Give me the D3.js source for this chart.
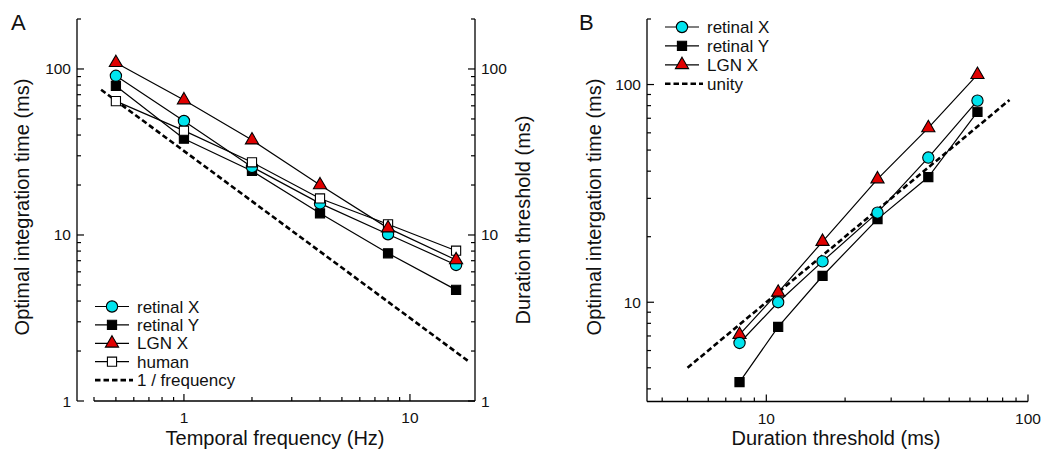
<!DOCTYPE html>
<html><head><meta charset="utf-8">
<script src="https://cdn.jsdelivr.net/npm/d3@7"></script>
<style>
body{margin:0;background:#fff;}
svg{display:block;font-family:Arial,"Liberation Sans",sans-serif;}
</style></head>
<body><svg id="c" width="1043" height="452"></svg>
<script>
// ---------- DATA ----------
// Panel A: temporal frequency (Hz)
const freqs = [0.5, 1, 2, 4, 8, 16];
const retinalX_A = [91, 48.6, 25.7, 15.5, 10.1, 6.6];
const retinalY_A = [79, 38, 24.3, 13.5, 7.76, 4.67];
const lgnX_A     = [109, 65, 37.3, 20, 11.0, 7.07];
const human_A    = [64, 42.5, 27.4, 16.6, 11.6, 8.04];
const invFreqLine = [[0.43, 75], [18, 1.75]];   // "1 / frequency" reference line
// Panel B: duration threshold (ms)
const threshold_B = [7.9, 11.1, 16.4, 26.6, 41.6, 64.1];
const retinalX_B  = [6.5, 10.0, 15.4, 25.8, 46.2, 84.4];
const retinalY_B  = [4.3, 7.7, 13.2, 24.1, 37.6, 74.9];
const lgnX_B      = [7.1, 11.1, 19.0, 36.8, 63.2, 111];
const unityLine   = [[5, 5], [85, 85]];
// tick labels
const ticksA_x = [1, 10], ticksA_y = [1, 10, 100];
const ticksB_x = [10, 100], ticksB_y = [10, 100];
const legendA = ["retinal X", "retinal Y", "LGN X", "human", "1 / frequency"];
const legendB = ["retinal X", "retinal Y", "LGN X", "unity"];

// ---------- STYLE ----------
const styles = {
  "retinal X": {sym: d3.symbolCircle, size: 100, fill: "#00e4ee"},
  "retinal Y": {sym: d3.symbolSquare, size: 84, fill: "#000"},
  "LGN X":     {sym: d3.symbolTriangle, size: 75, fill: "#e00000"},
  "human":     {sym: d3.symbolSquare, size: 84, fill: "#fff"}
};
const TITLE = 20;

const svg = d3.select("#c");

function minorTicks(lo, hi) {
  const out = [];
  for (let p = -2; p <= 3; p++) for (let m = 1; m <= 9; m++) {
    const v = m * Math.pow(10, p);
    if (v >= lo * 0.999 && v <= hi * 1.001) out.push(v);
  }
  return out;
}

function drawTicks(g, scale, orient, pos, majors, labelOffset) {
  const [lo, hi] = scale.domain();
  const all = minorTicks(lo, hi);
  all.forEach(v => {
    const major = majors.includes(v);
    const len = major ? 7 : 4;
    const p = scale(v);
    if (orient === "bottom") g.append("line").attr("x1", p).attr("x2", p).attr("y1", pos).attr("y2", pos - len);
    else if (orient === "left") g.append("line").attr("y1", p).attr("y2", p).attr("x1", pos).attr("x2", pos + len);
    else g.append("line").attr("y1", p).attr("y2", p).attr("x1", pos).attr("x2", pos - len);
  });
  g.selectAll("line").attr("stroke", "#000").attr("stroke-width", 1.2);
  majors.forEach(v => {
    const p = scale(v);
    const t = g.append("text").text(d3.format("d")(v)).attr("font-size", 15.5).attr("fill", "#111");
    if (orient === "bottom") t.attr("x", p).attr("y", pos + labelOffset).attr("text-anchor", "middle");
    else if (orient === "left") t.attr("x", pos - labelOffset).attr("y", p + 5.5).attr("text-anchor", "end");
    else t.attr("x", pos + labelOffset).attr("y", p + 5.5).attr("text-anchor", "start");
  });
}

function series(g, x, y, xs, ys) {
  const pts = xs.map((v, i) => [v, ys[i]]);
  g.append("path").datum(pts)
    .attr("d", d3.line().x(d => x(d[0])).y(d => y(d[1])))
    .attr("fill", "none").attr("stroke", "#000").attr("stroke-width", 1.2);
  return pts;
}
function markers(g, x, y, pts, name) {
  const st = styles[name];
  g.selectAll(null).data(pts).enter().append("path")
    .attr("d", d3.symbol().type(st.sym).size(st.size))
    .attr("transform", d => `translate(${x(d[0])},${y(d[1])})`)
    .attr("fill", st.fill).attr("stroke", "#000").attr("stroke-width", 1.1);
}
function dashed(g, x, y, pts) {
  g.append("path").datum(pts)
    .attr("d", d3.line().x(d => x(d[0])).y(d => y(d[1])))
    .attr("fill", "none").attr("stroke", "#000").attr("stroke-width", 2.6)
    .attr("stroke-dasharray", "5.5,3");
}
function legend(g, x0, y0, dy, names) {
  names.forEach((n, i) => {
    const yy = y0 + i * dy;
    if (styles[n]) {
      g.append("line").attr("x1", x0).attr("x2", x0 + 34).attr("y1", yy).attr("y2", yy)
        .attr("stroke", "#000").attr("stroke-width", 1.2);
      g.append("path").attr("d", d3.symbol().type(styles[n].sym).size(styles[n].size))
        .attr("transform", `translate(${x0 + 17},${yy})`)
        .attr("fill", styles[n].fill).attr("stroke", "#000").attr("stroke-width", 1.1);
    } else {
      g.append("line").attr("x1", x0).attr("x2", x0 + 38).attr("y1", yy).attr("y2", yy)
        .attr("stroke", "#000").attr("stroke-width", 2.6).attr("stroke-dasharray", "5.5,3");
    }
    g.append("text").attr("x", x0 + 42).attr("y", yy + 6).text(n)
      .attr("font-size", 17).attr("fill", "#111");
  });
}

// ---------- PANEL A ----------
{
  const g = svg.append("g");
  const x = d3.scaleLog().domain([0.4, 19.4]).range([94, 475]);
  const y = d3.scaleLog().domain([1, 200]).range([401, 19]);
  const axL = 77, axR = 475, axB = 401;
  g.append("line").attr("x1", axL).attr("x2", axL).attr("y1", 19).attr("y2", 401).attr("stroke", "#000").attr("stroke-width", 1.3);
  g.append("line").attr("x1", axR).attr("x2", axR).attr("y1", 19).attr("y2", 401).attr("stroke", "#000").attr("stroke-width", 1.3);
  g.append("line").attr("x1", 94).attr("x2", axR).attr("y1", axB).attr("y2", axB).attr("stroke", "#000").attr("stroke-width", 1.3);
  drawTicks(g.append("g"), y, "left", axL, ticksA_y, 6);
  drawTicks(g.append("g"), y, "right", axR, ticksA_y, 6);
  drawTicks(g.append("g"), x, "bottom", axB, ticksA_x, 22);

  dashed(g, x, y, invFreqLine);
  const pY = series(g, x, y, freqs, retinalY_A);
  const pX = series(g, x, y, freqs, retinalX_A);
  const pH = series(g, x, y, freqs, human_A);
  const pL = series(g, x, y, freqs, lgnX_A);
  markers(g, x, y, pY, "retinal Y");
  markers(g, x, y, pX, "retinal X");
  markers(g, x, y, pH, "human");
  markers(g, x, y, pL, "LGN X");

  legend(g, 95, 306.5, 18.4, legendA);

  g.append("text").text("Temporal frequency (Hz)").attr("x", 275).attr("y", 445)
    .attr("text-anchor", "middle").attr("font-size", TITLE).attr("fill", "#111");
  g.append("text").text("Optimal integration time (ms)")
    .attr("transform", "translate(29,207) rotate(-90)")
    .attr("text-anchor", "middle").attr("font-size", TITLE).attr("fill", "#111");
  g.append("text").text("Duration threshold (ms)")
    .attr("transform", "translate(530,220) rotate(-90)")
    .attr("text-anchor", "middle").attr("font-size", TITLE).attr("fill", "#111");
  g.append("text").text("A").attr("x", 11).attr("y", 30).attr("font-size", 22).attr("fill", "#111");
}

// ---------- PANEL B ----------
{
  const g = svg.append("g");
  const x = d3.scaleLog().domain([3.5, 100]).range([647, 1028]);
  const y = d3.scaleLog().domain([3.5, 200]).range([401.5, 19]);
  const axL = 647, axB = 401.5;
  g.append("line").attr("x1", axL).attr("x2", axL).attr("y1", 19).attr("y2", axB).attr("stroke", "#000").attr("stroke-width", 1.3);
  g.append("line").attr("x1", axL).attr("x2", 1028).attr("y1", axB).attr("y2", axB).attr("stroke", "#000").attr("stroke-width", 1.3);
  drawTicks(g.append("g"), y, "left", axL, ticksB_y, 6);
  drawTicks(g.append("g"), x, "bottom", axB, ticksB_x, 22);

  dashed(g, x, y, unityLine);
  const pY = series(g, x, y, threshold_B, retinalY_B);
  const pX = series(g, x, y, threshold_B, retinalX_B);
  const pL = series(g, x, y, threshold_B, lgnX_B);
  markers(g, x, y, pY, "retinal Y");
  markers(g, x, y, pL, "LGN X");
  markers(g, x, y, pX, "retinal X");

  legend(g, 665, 27, 18.9, legendB);

  g.append("text").text("Duration threshold (ms)").attr("x", 836).attr("y", 445)
    .attr("text-anchor", "middle").attr("font-size", TITLE).attr("fill", "#111");
  g.append("text").text("Optimal intergation time (ms)")
    .attr("transform", "translate(601,207) rotate(-90)")
    .attr("text-anchor", "middle").attr("font-size", TITLE).attr("fill", "#111");
  g.append("text").text("B").attr("x", 579).attr("y", 30).attr("font-size", 22).attr("fill", "#111");
}
</script></body></html>
